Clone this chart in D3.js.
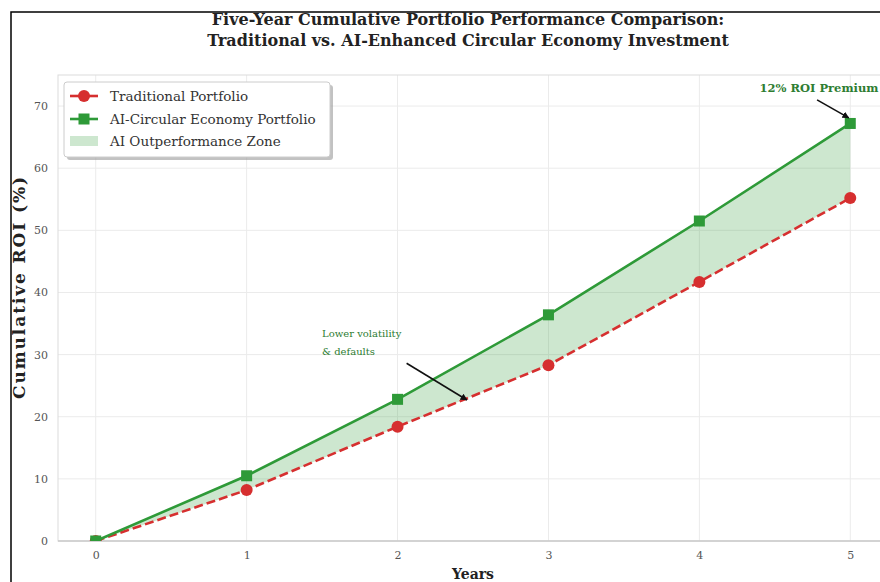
<!DOCTYPE html>
<html>
<head>
<meta charset="utf-8">
<script src="https://cdn.jsdelivr.net/npm/d3@7"></script>
<style>
  html, body { margin: 0; padding: 0; background: #fff; }
  svg { display: block; }
</style>
</head>
<body>
<svg id="chart" width="880" height="582"></svg>
<script>
// Cumulative ROI (%) by year for the two portfolios
const years = [0, 1, 2, 3, 4, 5];
const traditional = [0, 8.2, 18.4, 28.3, 41.7, 55.2];
const aiCircular = [0, 10.5, 22.8, 36.4, 51.5, 67.2];
const yTicks = [0, 10, 20, 30, 40, 50, 60, 70];
const xTicks = [0, 1, 2, 3, 4, 5];
const titleLines = [
  "Five-Year Cumulative Portfolio Performance Comparison:",
  "Traditional vs. AI-Enhanced Circular Economy Investment"
];
const legendLabels = ["Traditional Portfolio", "AI-Circular Economy Portfolio", "AI Outperformance Zone"];

const serif = "'DejaVu Serif', 'Liberation Serif', serif";
const RED = "#d62f2f";
const GREEN = "#2e9a38";
const DARKGREEN = "#2e7d32";

const svg = d3.select("#chart");
const defs = svg.append("defs");

// outer figure frame
svg.append("rect").attr("x", 11).attr("y", 12).attr("width", 900).attr("height", 600)
  .attr("fill", "#fff").attr("stroke", "#000").attr("stroke-width", 1.5);

const plot = { left: 58, right: 888, top: 75, bottom: 541 };
const x = d3.scaleLinear().domain([-0.25, 5.25]).range([plot.left, plot.right]);
const y = d3.scaleLinear().domain([0, 75]).range([plot.bottom, plot.top]);

defs.append("clipPath").attr("id", "plotClip")
  .append("rect").attr("x", plot.left).attr("y", plot.top)
  .attr("width", plot.right - plot.left).attr("height", plot.bottom - plot.top);

// grid
const grid = svg.append("g");
grid.selectAll(".gy").data(yTicks).join("line")
  .attr("x1", plot.left).attr("x2", plot.right)
  .attr("y1", d => y(d)).attr("y2", d => y(d))
  .attr("stroke", "#ebebeb").attr("stroke-width", 1);
grid.selectAll(".gx").data(xTicks).join("line")
  .attr("x1", d => x(d)).attr("x2", d => x(d))
  .attr("y1", plot.top).attr("y2", plot.bottom)
  .attr("stroke", "#ebebeb").attr("stroke-width", 1);

// plot frame
svg.append("rect").attr("x", plot.left).attr("y", plot.top)
  .attr("width", plot.right - plot.left).attr("height", plot.bottom - plot.top)
  .attr("fill", "none").attr("stroke", "#dcdcdc").attr("stroke-width", 1);
svg.append("line").attr("x1", plot.left).attr("x2", plot.right)
  .attr("y1", plot.bottom).attr("y2", plot.bottom)
  .attr("stroke", "#bdbdbd").attr("stroke-width", 1.2);

// axes
const yAxis = d3.axisLeft(y).tickValues(yTicks).tickSize(0).tickPadding(10).tickFormat(d3.format("d"));
const gy = svg.append("g").attr("transform", `translate(${plot.left},0)`).call(yAxis);
const xAxis = d3.axisBottom(x).tickValues(xTicks).tickSize(0).tickPadding(10).tickFormat(d3.format("d"));
const gx = svg.append("g").attr("transform", `translate(0,${plot.bottom})`).call(xAxis);
[gx, gy].forEach(g => {
  g.select(".domain").remove();
  g.selectAll("text").attr("font-family", serif).attr("font-size", 11).attr("fill", "#555");
});

// axis titles
svg.append("text").attr("x", (plot.left + plot.right) / 2).attr("y", 579)
  .attr("text-anchor", "middle").attr("font-family", serif).attr("font-weight", "bold")
  .attr("font-size", 14).attr("fill", "#222").text("Years");
svg.append("text")
  .attr("transform", `translate(25,${(plot.top + plot.bottom) / 2 - 20}) rotate(-90)`)
  .attr("text-anchor", "middle").attr("font-family", serif).attr("font-weight", "bold")
  .attr("font-size", 17).attr("textLength", 222).attr("lengthAdjust", "spacing")
  .attr("fill", "#222").text("Cumulative ROI (%)");

// title
svg.append("g").selectAll("text").data(titleLines).join("text")
  .attr("x", 468).attr("y", (d, i) => 25 + i * 21)
  .attr("text-anchor", "middle").attr("font-family", serif).attr("font-weight", "bold")
  .attr("font-size", 16).attr("fill", "#222").text(d => d);

const data = years.map((yr, i) => ({ yr, t: traditional[i], a: aiCircular[i] }));
const layer = svg.append("g").attr("clip-path", "url(#plotClip)");

// outperformance zone
layer.append("path").datum(data)
  .attr("d", d3.area().x(d => x(d.yr)).y0(d => y(d.t)).y1(d => y(d.a)))
  .attr("fill", GREEN).attr("fill-opacity", 0.24);

// traditional portfolio
layer.append("path").datum(data)
  .attr("d", d3.line().x(d => x(d.yr)).y(d => y(d.t)))
  .attr("fill", "none").attr("stroke", RED).attr("stroke-width", 2.6)
  .attr("stroke-dasharray", "9,4");
layer.selectAll(".tp").data(data).join("circle")
  .attr("cx", d => x(d.yr)).attr("cy", d => y(d.t)).attr("r", 6)
  .attr("fill", RED);

// AI-circular portfolio
layer.append("path").datum(data)
  .attr("d", d3.line().x(d => x(d.yr)).y(d => y(d.a)))
  .attr("fill", "none").attr("stroke", GREEN).attr("stroke-width", 2.6);
layer.selectAll(".ap").data(data).join("rect")
  .attr("x", d => x(d.yr) - 5.5).attr("y", d => y(d.a) - 5.5)
  .attr("width", 11).attr("height", 11).attr("fill", GREEN);

// annotation arrows
defs.append("marker").attr("id", "arrowHead").attr("viewBox", "0 0 10 10")
  .attr("refX", 9).attr("refY", 5).attr("markerWidth", 7).attr("markerHeight", 7)
  .attr("orient", "auto-start-reverse").attr("markerUnits", "userSpaceOnUse")
  .append("path").attr("d", "M0,0 L10,5 L0,10 z").attr("fill", "#111");

svg.append("line")
  .attr("x1", x(2.06)).attr("y1", y(28.6))
  .attr("x2", x(2.46)).attr("y2", y(22.7))
  .attr("stroke", "#111").attr("stroke-width", 1.6).attr("marker-end", "url(#arrowHead)");
svg.append("text").attr("x", x(1.5)).attr("y", 337)
  .attr("font-family", serif).attr("font-size", 10).attr("fill", DARKGREEN)
  .selectAll("tspan").data(["Lower volatility", "& defaults"]).join("tspan")
  .attr("x", x(1.5)).attr("dy", (d, i) => i === 0 ? 0 : 18).text(d => d);

svg.append("line")
  .attr("x1", x(4.78)).attr("y1", y(71.0))
  .attr("x2", x(4.99)).attr("y2", y(68.1))
  .attr("stroke", "#111").attr("stroke-width", 1.6).attr("marker-end", "url(#arrowHead)");
svg.append("text").attr("x", 819).attr("y", 92).attr("text-anchor", "middle")
  .attr("font-family", serif).attr("font-weight", "bold").attr("font-size", 11.5)
  .attr("fill", DARKGREEN).text("12% ROI Premium");

// legend
const lg = svg.append("g").attr("transform", "translate(64,82)");
lg.append("rect").attr("x", 3).attr("y", 3).attr("width", 266).attr("height", 75)
  .attr("rx", 3).attr("fill", "#999").attr("fill-opacity", 0.6);
lg.append("rect").attr("x", 0).attr("y", 0).attr("width", 266).attr("height", 75)
  .attr("rx", 3).attr("fill", "#fff").attr("stroke", "#ccc");
const rowY = [14, 37, 59];
lg.append("line").attr("x1", 6).attr("x2", 34).attr("y1", rowY[0]).attr("y2", rowY[0])
  .attr("stroke", RED).attr("stroke-width", 2.6);
lg.append("circle").attr("cx", 20).attr("cy", rowY[0]).attr("r", 6).attr("fill", RED);
lg.append("line").attr("x1", 6).attr("x2", 34).attr("y1", rowY[1]).attr("y2", rowY[1])
  .attr("stroke", GREEN).attr("stroke-width", 2.6);
lg.append("rect").attr("x", 14.5).attr("y", rowY[1] - 5.5).attr("width", 11).attr("height", 11)
  .attr("fill", GREEN);
lg.append("rect").attr("x", 6).attr("y", rowY[2] - 5).attr("width", 28).attr("height", 10)
  .attr("fill", GREEN).attr("fill-opacity", 0.24);
lg.selectAll(".lt").data(legendLabels).join("text")
  .attr("x", 46).attr("y", (d, i) => rowY[i] + 4.5)
  .attr("font-family", serif).attr("font-size", 13.5).attr("fill", "#333").text(d => d);
</script>
</body>
</html>
